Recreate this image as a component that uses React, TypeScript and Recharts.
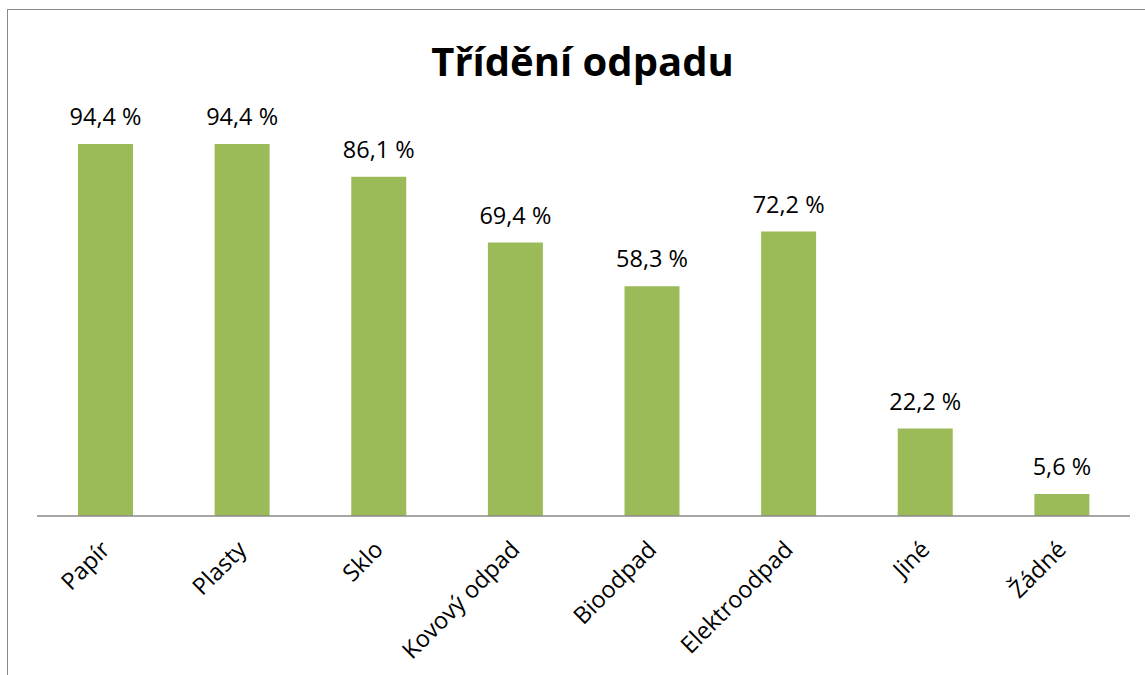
import { BarChart, Bar, XAxis, YAxis, LabelList } from 'recharts'

const categories = ['Papír', 'Plasty', 'Sklo', 'Kovový odpad', 'Bioodpad', 'Elektroodpad', 'Jiné', 'Žádné']
const shares = [94.4, 94.4, 86.1, 69.4, 58.3, 72.2, 22.2, 5.6]

const data = categories.map((name, i) => ({ name, value: shares[i] }))

const FONT = '"Open Sans", sans-serif'

function CategoryTick({ x, y, payload }: any) {
  const px = x + 6
  const py = y + 27
  return (
    <text x={px} y={py} transform={`rotate(-45, ${px}, ${py})`} textAnchor="end"
      fontFamily={FONT} fontSize={23.5} fill="#000">
      {payload.value}
    </text>
  )
}

const fmt = (v: any) => `${String(v).replace('.', ',')} %`

export default function App() {
  return (
    <div style={{ position: 'fixed', left: 0, top: 0, width: 1145, height: 675, overflow: 'hidden', background: '#fff' }}>
      <div style={{ position: 'absolute', left: 7, top: 9, width: 1300, height: 800, border: '1.5px solid #8a8a8a' }} />
      <div style={{ position: 'absolute', left: 10, top: 36, width: 1145, textAlign: 'center',
        fontFamily: FONT, fontWeight: 700, fontSize: 40, color: '#000', lineHeight: '50px' }}>
        Třídění odpadu
      </div>
      <div style={{ position: 'absolute', left: 0, top: 0 }}>
        <BarChart width={1145} height={675} data={data}
          margin={{ top: 122, right: 15, bottom: 9, left: 37 }}>
          <XAxis dataKey="name" height={150} interval={0} tick={<CategoryTick />}
            tickLine={false} axisLine={{ stroke: '#8a8a8a', strokeWidth: 1.5 }} />
          <YAxis hide domain={[0, 100]} />
          <Bar dataKey="value" fill="#9bbb59" barSize={55} isAnimationActive={false}>
            <LabelList dataKey="value" position="top" offset={19} formatter={fmt}
              style={{ fontFamily: FONT, fontSize: 23.5, fill: '#000' }} />
          </Bar>
        </BarChart>
      </div>
    </div>
  )
}
